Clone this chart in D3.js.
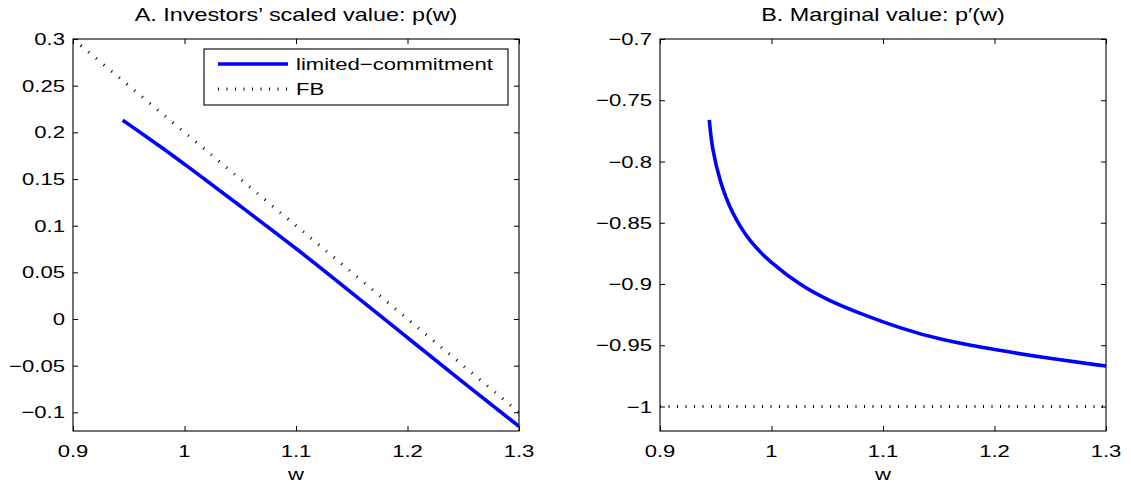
<!DOCTYPE html>
<html><head><meta charset="utf-8">
<script src="https://cdn.jsdelivr.net/npm/d3@7"></script>
<style>
html,body{margin:0;padding:0;background:#fff;}
svg text{font-family:"Liberation Sans",Arial,Helvetica,sans-serif;fill:#000;}
</style></head>
<body><svg id="c" width="1131" height="486"></svg>
<script>
// ---- data ----
const xTicks = [0.9, 1, 1.1, 1.2, 1.3];
const xTickLabels = ["0.9", "1", "1.1", "1.2", "1.3"];
const aYTicks = [-0.1, -0.05, 0, 0.05, 0.1, 0.15, 0.2, 0.25, 0.3];
const aYTickLabels = ["\u22120.1", "\u22120.05", "0", "0.05", "0.1", "0.15", "0.2", "0.25", "0.3"];
const bYTicks = [-1, -0.95, -0.9, -0.85, -0.8, -0.75, -0.7];
const bYTickLabels = ["\u22121", "\u22120.95", "\u22120.9", "\u22120.85", "\u22120.8", "\u22120.75", "\u22120.7"];

// Panel A: limited-commitment p(w) and first-best
const aW = [0.9446, 0.9807, 1.0, 1.05, 1.1, 1.15, 1.2, 1.25, 1.3];
const aP = [0.213, 0.183, 0.166, 0.121, 0.076, 0.028, -0.020, -0.068, -0.115];
const aFbW = [0.9, 1.3];
const aFbP = [0.3, -0.1];

// Panel B: marginal value p'(w) and first-best
const bW = [0.9442, 0.9464, 0.9538, 0.9643, 0.9807, 0.9987, 1.0256, 1.0525, 1.0794, 1.1152, 1.1511, 1.2020, 1.2513, 1.3];
const bP = [-0.766, -0.788, -0.817, -0.842, -0.866, -0.882, -0.901, -0.914, -0.924, -0.936, -0.9455, -0.954, -0.961, -0.967];
const bFbW = [0.9, 1.3];
const bFbP = [-1, -1];

const titles = ["A. Investors\u2019 scaled value: p(w)", "B. Marginal value: p\u2032(w)"];
const legendLabels = ["limited\u2212commitment", "FB"];

// ---- drawing ----
const svg = d3.select("#c");
const SX = 1.3; // horizontal text stretch of the reference
function txt(g, x, y, s, anchor, size) {
  return g.append("text")
    .attr("transform", `translate(${x},${y}) scale(${SX},1)`)
    .attr("text-anchor", anchor)
    .attr("font-size", size)
    .text(s);
}

function panel(opts) {
  const {left, right, top, bottom, yDomain, yTicks, yLabels, series, fb, title, id, fbDash} = opts;
  const x = d3.scaleLinear().domain([0.9, 1.3]).range([left, right]);
  const y = d3.scaleLinear().domain(yDomain).range([bottom, top]);
  const g = svg.append("g");

  g.append("clipPath").attr("id", id).append("rect")
    .attr("x", left).attr("y", top).attr("width", right - left).attr("height", bottom - top);

  const fbData = fb[0].map((w, i) => [w, fb[1][i]]);
  g.append("path").datum(fbData)
    .attr("d", d3.line().x(d => x(d[0])).y(d => y(d[1])))
    .attr("clip-path", `url(#${id})`)
    .attr("fill", "none").attr("stroke", "#000").attr("stroke-width", 3)
    .attr("stroke-dasharray", fbDash);

  const sData = series[0].map((w, i) => [w, series[1][i]]);
  g.append("path").datum(sData)
    .attr("d", d3.line().x(d => x(d[0])).y(d => y(d[1])).curve(d3.curveBasis))
    .attr("clip-path", `url(#${id})`)
    .attr("fill", "none").attr("stroke", "#0000ff").attr("stroke-width", 3.6);

  // box
  g.append("rect").attr("x", left).attr("y", top).attr("width", right - left).attr("height", bottom - top)
    .attr("fill", "none").attr("stroke", "#000").attr("stroke-width", 1.1);

  // axes with inner ticks
  const tl = 5;
  const axB = d3.axisBottom(x).tickValues(xTicks).tickSize(-tl).tickFormat("");
  const axT = d3.axisTop(x).tickValues(xTicks).tickSize(-tl).tickFormat("");
  const axL = d3.axisLeft(y).tickValues(yTicks).tickSize(-tl).tickFormat("");
  const axR = d3.axisRight(y).tickValues(yTicks).tickSize(-tl).tickFormat("");
  [[axB, `translate(0,${bottom})`], [axT, `translate(0,${top})`], [axL, `translate(${left},0)`], [axR, `translate(${right},0)`]]
    .forEach(([ax, tr]) => {
      const a = g.append("g").attr("transform", tr).call(ax);
      a.select(".domain").remove();
      a.selectAll("line").attr("stroke", "#000").attr("stroke-width", 1);
    });

  xTicks.forEach((v, i) => txt(g, x(v), bottom + 26, xTickLabels[i], "middle", 17));
  yTicks.forEach((v, i) => txt(g, left - 8, y(v) + 6, yLabels[i], "end", 17));
  txt(g, (left + right) / 2, bottom + 49, "w", "middle", 17);
  txt(g, (left + right) / 2, 21, title, "middle", 18);
  return {x, y, g};
}

panel({left: 73, right: 519, top: 39, bottom: 431, yDomain: [-0.12, 0.3],
  yTicks: aYTicks, yLabels: aYTickLabels, series: [aW, aP], fb: [aFbW, aFbP], title: titles[0], id: "clipA", fbDash: "1,9"});
panel({left: 660, right: 1106, top: 39, bottom: 431, yDomain: [-1.02, -0.7],
  yTicks: bYTicks, yLabels: bYTickLabels, series: [bW, bP], fb: [bFbW, bFbP], title: titles[1], id: "clipB", fbDash: "1,7.5"});

// legend
const lg = svg.append("g");
lg.append("rect").attr("x", 204).attr("y", 49).attr("width", 304).attr("height", 56)
  .attr("fill", "#fff").attr("stroke", "#000").attr("stroke-width", 1.1);
lg.append("line").attr("x1", 218).attr("x2", 288).attr("y1", 64).attr("y2", 64)
  .attr("stroke", "#0000ff").attr("stroke-width", 3.6);
lg.append("line").attr("x1", 218).attr("x2", 288).attr("y1", 89).attr("y2", 89)
  .attr("stroke", "#000").attr("stroke-width", 3).attr("stroke-dasharray", "1,7.5");
txt(lg, 296, 70, legendLabels[0], "start", 17);
txt(lg, 296, 95, legendLabels[1], "start", 17);
</script></body></html>
